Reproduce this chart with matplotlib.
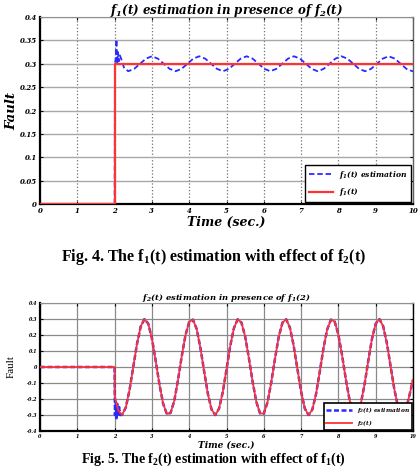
import matplotlib.pyplot as plt
import numpy as np

plt.rcParams['mathtext.fontset'] = 'custom'
plt.rcParams['mathtext.rm'] = 'DejaVu Serif:bold:italic'
plt.rcParams['mathtext.it'] = 'DejaVu Serif:bold:italic'
plt.rcParams['mathtext.bf'] = 'Liberation Serif:bold'

# ---- data: Fig. 4, f1(t) and its estimate
f1_t = [0, 2.0, 2.0, 10.0]
f1_v = [0, 0, 0.3, 0.3]

est1_t = [0, 2.0, 2.01, 2.03, 2.05, 2.07, 2.09, 2.11, 2.14, 2.18, 2.25,
          2.365, 2.524, 2.683, 2.841, 3.000, 3.159, 3.318, 3.476,
          3.635, 3.794, 3.953, 4.111, 4.270, 4.429, 4.588, 4.746,
          4.905, 5.064, 5.223, 5.381, 5.540, 5.699, 5.858, 6.016,
          6.175, 6.334, 6.493, 6.651, 6.810, 6.969, 7.128, 7.286,
          7.445, 7.604, 7.763, 7.921, 8.080, 8.239, 8.398, 8.556,
          8.715, 8.874, 9.033, 9.191, 9.350, 9.509, 9.668, 9.826,
          9.985, 10.0]
est1_v = [0, 0, 0.300, 0.312, 0.352, 0.300, 0.325, 0.305, 0.318, 0.310, 0.292,
          0.284, 0.289, 0.300, 0.311, 0.316, 0.311, 0.300, 0.289,
          0.284, 0.289, 0.300, 0.311, 0.316, 0.311, 0.300, 0.289,
          0.284, 0.289, 0.300, 0.311, 0.316, 0.311, 0.300, 0.289,
          0.284, 0.289, 0.300, 0.311, 0.316, 0.311, 0.300, 0.289,
          0.284, 0.289, 0.300, 0.311, 0.316, 0.311, 0.300, 0.289,
          0.284, 0.289, 0.300, 0.311, 0.316, 0.311, 0.300, 0.289,
          0.284, 0.284]

# ---- data: Fig. 5, f2(t) and its estimate (sampled every 0.1 s from t = 2)
grid = np.round(np.arange(2.0, 10.05, 0.1), 1)
f2_vals = [-0.179, -0.272, -0.299, -0.253, -0.144, 0.000, 0.144, 0.253, 0.299, 0.272,
           0.179, 0.041, -0.106, -0.228, -0.294, -0.287, -0.211, -0.081, 0.067, 0.199,
           0.282, 0.296, 0.238, 0.120, -0.026, -0.167, -0.266, -0.300, -0.260, -0.157,
           -0.015, 0.131, 0.244, 0.298, 0.278, 0.191, 0.056, -0.092, -0.218, -0.290,
           -0.291, -0.220, -0.096, 0.052, 0.188, 0.277, 0.298, 0.246, 0.134, -0.011,
           -0.154, -0.260, -0.300, -0.267, -0.170, -0.030, 0.117, 0.235, 0.296, 0.284,
           0.202, 0.071, -0.078, -0.207, -0.286, -0.294, -0.230, -0.110, 0.037, 0.176,
           0.271, 0.299, 0.255, 0.148, 0.004, -0.140, -0.251, -0.299, -0.274, -0.182,
           -0.080]
f2_t = [0, 2.0] + list(grid)
f2_v = [0, 0] + f2_vals

est2_start_t = [0, 2.0, 2.01, 2.03, 2.05, 2.07, 2.09, 2.12, 2.15]
est2_start_v = [0, 0, -0.30, -0.22, -0.32, -0.23, -0.31, -0.25, -0.30]
est2_t = est2_start_t + list(grid[2:])
est2_v = est2_start_v + f2_vals[2:]

x_ticks = list(range(0, 11))
x_labels = [str(v) for v in x_ticks]
y1_ticks = [0, 0.05, 0.1, 0.15, 0.2, 0.25, 0.3, 0.35, 0.4]
y1_labels = ['0', '0.05', '0.1', '0.15', '0.2', '0.25', '0.3', '0.35', '0.4']
y2_ticks = [-0.4, -0.3, -0.2, -0.1, 0, 0.1, 0.2, 0.3, 0.4]
y2_labels = ['-0.4', '-0.3', '-0.2', '-0.1', '0', '0.1', '0.2', '0.3', '0.4']

blue = '#2a2aff'
red = '#ff3333'
bi = dict(family='DejaVu Serif', weight='bold', style='italic')

fig = plt.figure(figsize=(4.19, 4.69), dpi=100)
W, H = 419.0, 469.0


def px_axes(left, top, right, bottom):
    return fig.add_axes([left / W, 1 - bottom / H, (right - left) / W, (bottom - top) / H])


def style_axes(ax, tick_size, yticks, ylabels, right_color):
    ax.set_xlim(0, 10)
    ax.set_xticks(x_ticks)
    ax.set_xticklabels(x_labels, fontsize=tick_size, **bi)
    ax.set_yticks(yticks)
    ax.set_yticklabels(ylabels, fontsize=tick_size, **bi)
    ax.tick_params(direction='in', top=True, right=True, length=2.5, width=0.8, pad=2)
    for s in ['left', 'bottom']:
        ax.spines[s].set_linewidth(1.6)
        ax.spines[s].set_color('black')
    ax.spines['top'].set_color('#909090')
    ax.spines['top'].set_linewidth(0.8)
    ax.spines['right'].set_color(right_color)
    ax.spines['right'].set_linewidth(1.0)


# ---------------- Fig. 4 ----------------
ax1 = px_axes(40, 17, 413, 204)
ax1.plot(est1_t, est1_v, '--', color=blue, lw=1.3, dashes=(3, 1.6), label=r'$f_1(t)$ estimation', zorder=3)
ax1.plot(f1_t, f1_v, '-', color=red, lw=1.6, label=r'$f_1(t)$', zorder=4)
ax1.set_ylim(0, 0.4)
style_axes(ax1, 5, y1_ticks, y1_labels, '#606060')
ax1.xaxis.grid(True, linestyle=':', color='#707070', lw=0.9)
ax1.yaxis.grid(True, linestyle='-', color='#a8a8a8', lw=1.0)
ax1.set_axisbelow(True)
ax1.set_title(r'$f_1(t)$ estimation in presence of $f_2(t)$', fontsize=8.5, pad=2, **bi)
ax1.set_xlabel('Time (sec.)', fontsize=9, labelpad=1, **bi)
ax1.set_ylabel('Fault', fontsize=9.5, labelpad=1, **bi)
leg1 = ax1.legend(loc='lower right', fancybox=False, framealpha=1, edgecolor='black',
                  prop=dict(family='DejaVu Serif', weight='bold', style='italic', size=5.5),
                  borderpad=0.5, handlelength=3.2, labelspacing=0.7, borderaxespad=0.25)
leg1.get_frame().set_linewidth(1.0)

fig.text(0.51, 1 - 257 / H, r'Fig. 4. The $\mathbf{f_1(t)}$ estimation with effect of $\mathbf{f_2(t)}$',
         ha='center', va='center', fontsize=11.5, family='Liberation Serif', weight='bold')

# ---------------- Fig. 5 ----------------
ax2 = px_axes(40, 303, 413, 431)
ax2.plot(est2_t, est2_v, '--', color=blue, lw=1.8, dashes=(2, 1), label=r'$f_2(t)$ estimation', zorder=3)
ax2.plot(f2_t, f2_v, '-', color=red, lw=1.3, label=r'$f_2(t)$', zorder=4)
ax2.set_ylim(-0.4, 0.4)
style_axes(ax2, 3.5, y2_ticks, y2_labels, 'black')
ax2.grid(True, linestyle='-', color='#8a8a8a', lw=0.9)
ax2.set_axisbelow(True)
ax2.set_title(r'$f_2(t)$ estimation in presence of $f_1(2)$', fontsize=6, pad=2, **bi)
ax2.set_xlabel('Time (sec.)', fontsize=6.5, labelpad=1, **bi)
ax2.set_ylabel('Fault', fontsize=8, labelpad=8, family='Liberation Serif')
leg2 = ax2.legend(loc='lower right', fancybox=False, framealpha=1, edgecolor='black',
                  prop=dict(family='DejaVu Serif', weight='bold', style='italic', size=4.2),
                  borderpad=0.35, handlelength=4.5, labelspacing=0.5, borderaxespad=0.15)
leg2.get_frame().set_linewidth(1.2)
leg2.set_zorder(10)

fig.text(0.51, 1.5 / H, r'Fig. 5. The $\mathbf{f_2(t)}$ estimation with effect of $\mathbf{f_1(t)}$',
         ha='center', va='bottom', fontsize=10, family='Liberation Serif', weight='bold')

fig.savefig('out.png', dpi=100)
